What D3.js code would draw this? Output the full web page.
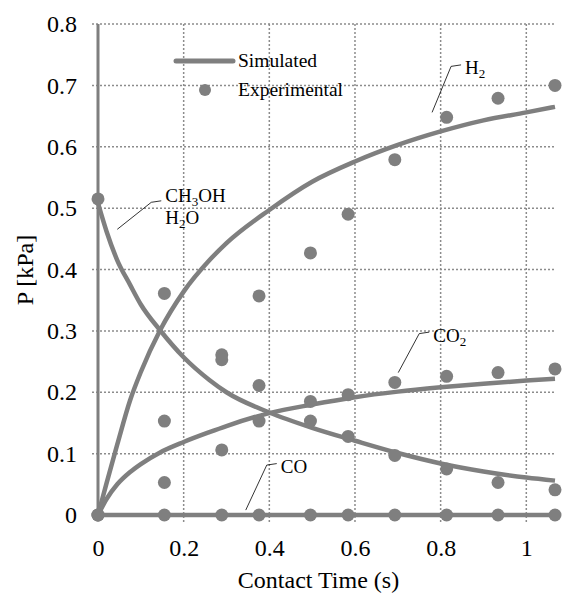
<html>
<head>
<meta charset="utf-8">
<script src="https://d3js.org/d3.v7.min.js"></script>
<style>
  body { margin: 0; background: white; }
  svg text { fill: black; }
</style>
</head>
<body>
<svg id="chart" width="563" height="594"></svg>
<script>
// experimental points (contact time, s)
var expTime  = [0, 0.155, 0.289, 0.376, 0.496, 0.584, 0.693, 0.814, 0.934, 1.067];
var expH2    = [0, 0.361, 0.261, 0.357, 0.427, 0.490, 0.579, 0.648, 0.679, 0.700];
var expCH3OH = [0.515, 0.153, 0.253, 0.211, 0.153, 0.128, 0.097, 0.075, 0.053, 0.041];
var expCO2   = [0, 0.053, 0.106, 0.153, 0.185, 0.196, 0.216, 0.226, 0.232, 0.238];
var expCO    = [0, 0, 0, 0, 0, 0, 0, 0, 0, 0];

// simulated curves
var simTime  = [0, 0.02, 0.045, 0.075, 0.1, 0.145, 0.2, 0.26, 0.3, 0.4, 0.5, 0.6, 0.7, 0.8, 0.9, 1.0, 1.067];
var simH2    = [0, 0.052, 0.115, 0.187, 0.233, 0.301, 0.364, 0.415, 0.443, 0.497, 0.543, 0.576, 0.603, 0.625, 0.643, 0.656, 0.665];
var simCH3OH = [0.508, 0.462, 0.415, 0.375, 0.343, 0.301, 0.257, 0.22, 0.2, 0.167, 0.142, 0.121, 0.101, 0.084, 0.071, 0.061, 0.056];
var simCO2   = [0, 0.026, 0.05, 0.07, 0.083, 0.102, 0.119, 0.135, 0.145, 0.166, 0.18, 0.192, 0.201, 0.208, 0.214, 0.219, 0.222];
var simCO    = [0, 0, 0, 0, 0, 0, 0, 0, 0, 0, 0, 0, 0, 0, 0, 0, 0];

var xTicks = [0, 0.2, 0.4, 0.6, 0.8, 1];
var yTicks = [0, 0.1, 0.2, 0.3, 0.4, 0.5, 0.6, 0.7, 0.8];

var grey = "#7f7f7f";
var serif = "Liberation Serif";
var mLeft = 98, mRight = 555, mTop = 24, mBottom = 515;

var svg = d3.select("#chart").attr("font-family", serif);
var xs = d3.scaleLinear().domain([0, 1.067]).range([mLeft, mRight]);
var ys = d3.scaleLinear().domain([0, 0.8]).range([mBottom, mTop]);

// dotted grid
svg.append("g").selectAll("line").data(yTicks.slice(1)).enter().append("line")
    .attr("x1", mLeft - 6).attr("x2", mRight)
    .attr("y1", function(d) { return ys(d); }).attr("y2", function(d) { return ys(d); })
    .attr("stroke", "#8c8c8c").attr("stroke-width", 1.5).attr("stroke-dasharray", "2,2");
svg.append("g").selectAll("line").data(xTicks.slice(1)).enter().append("line")
    .attr("x1", function(d) { return xs(d); }).attr("x2", function(d) { return xs(d); })
    .attr("y1", mTop).attr("y2", mBottom + 7)
    .attr("stroke", "#8c8c8c").attr("stroke-width", 1.5).attr("stroke-dasharray", "2,2");

// axes
var yAxis = svg.append("g").attr("transform", "translate(" + mLeft + ",0)")
    .call(d3.axisLeft(ys).tickValues(yTicks).tickSize(0).tickPadding(21).tickFormat(d3.format("~g")));
var xAxis = svg.append("g").attr("transform", "translate(0," + mBottom + ")")
    .call(d3.axisBottom(xs).tickValues(xTicks).tickSize(0).tickPadding(24).tickFormat(d3.format("~g")));
[yAxis, xAxis].forEach(function(a) {
  a.attr("font-family", serif).attr("font-size", 24);
  a.select(".domain").remove();
});
svg.append("line").attr("x1", mLeft).attr("x2", mLeft).attr("y1", mTop).attr("y2", mBottom)
    .attr("stroke", grey).attr("stroke-width", 3);
svg.append("line").attr("x1", mLeft).attr("x2", mRight).attr("y1", mBottom).attr("y2", mBottom)
    .attr("stroke", grey).attr("stroke-width", 3);

// simulated lines
var line = d3.line()
    .x(function(d) { return xs(d[0]); })
    .y(function(d) { return ys(d[1]); })
    .curve(d3.curveMonotoneX);
[simH2, simCH3OH, simCO2, simCO].forEach(function(s) {
  svg.append("path")
    .datum(simTime.map(function(t, i) { return [t, s[i]]; }))
    .attr("d", line)
    .attr("fill", "none").attr("stroke", grey).attr("stroke-width", 4.5);
});

// experimental points
[expH2, expCH3OH, expCO2, expCO].forEach(function(s) {
  svg.append("g").selectAll("circle").data(expTime.map(function(t, i) { return [t, s[i]]; }))
    .enter().append("circle")
    .attr("cx", function(d) { return xs(d[0]); })
    .attr("cy", function(d) { return ys(d[1]); })
    .attr("r", 6.5).attr("fill", grey);
});

// legend
svg.append("line").attr("x1", 176).attr("x2", 233).attr("y1", 61).attr("y2", 61)
    .attr("stroke", grey).attr("stroke-width", 5).attr("stroke-linecap", "round");
svg.append("text").attr("x", 238).attr("y", 67).attr("font-size", 19.5).text("Simulated");
svg.append("circle").attr("cx", 205).attr("cy", 90).attr("r", 6).attr("fill", grey);
svg.append("text").attr("x", 238).attr("y", 96).attr("font-size", 19.5).text("Experimental");

// species labels with leader lines
var labels = [
  {t: 0.045, p: 0.4655, ex: 34, ey: -27, lines: [["CH", "3", "OH"], ["H", "2", "O"]]},
  {t: 0.780, p: 0.656, ex: 19, ey: -46, lines: [["H", "2", ""]]},
  {t: 0.701, p: 0.232, ex: 21, ey: -39, lines: [["CO", "2", ""]]},
  {t: 0.345, p: 0.008, ex: 21, ey: -45, lines: [["CO", "", ""]]}
];
labels.forEach(function(l) {
  var x0 = xs(l.t), y0 = ys(l.p);
  var x1 = x0 + l.ex, y1 = y0 + l.ey;
  svg.append("path")
    .attr("d", "M" + x0 + "," + y0 + "L" + x1 + "," + y1 + "L" + (x1 + 10) + "," + (y1 - 1.5))
    .attr("fill", "none").attr("stroke", "black").attr("stroke-width", 0.8);
  var n = l.lines.length;
  l.lines.forEach(function(parts, i) {
    var t = svg.append("text")
      .attr("x", x1 + 14)
      .attr("y", y1 + 8 - (n - 1 - i) * 22 + (n > 1 ? 14 : 0))
      .attr("font-size", 19);
    t.append("tspan").text(parts[0]);
    if (parts[1]) t.append("tspan").attr("dy", 4).attr("font-size", 13).text(parts[1]);
    if (parts[2]) t.append("tspan").attr("dy", -4).text(parts[2]);
  });
});

// axis titles
svg.append("text").attr("x", (mLeft + mRight) / 2 - 8).attr("y", 588)
    .attr("text-anchor", "middle").attr("font-size", 24).text("Contact Time (s)");
svg.append("text").attr("transform", "translate(33,270) rotate(-90)")
    .attr("text-anchor", "middle").attr("font-size", 24).text("P [kPa]");
</script>
</body>
</html>
